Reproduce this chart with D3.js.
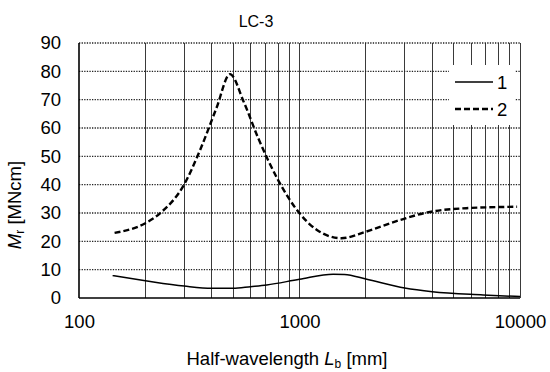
<!DOCTYPE html>
<html>
<head>
<meta charset="utf-8">
<script src="https://cdn.jsdelivr.net/npm/d3@7"></script>
<style>
  body { margin: 0; background: #fff; }
  text { font-family: "Liberation Sans", Arial, sans-serif; fill: #000; }
</style>
</head>
<body>
<div id="chart-area"></div>
<script>
// data
const lengths1 = [142, 200, 300, 400, 500, 600, 710, 1000, 1420, 1600, 2000, 3000, 4000, 6800, 10000]
const moments1 = [7.9, 6.1, 4.2, 3.4, 3.4, 4.0, 4.6, 6.6, 8.4, 8.3, 6.7, 3.5, 2.2, 1.1, 0.5]
const lengths2 = [145, 200, 233, 300, 354, 420, 484, 560, 650, 800, 1000, 1200, 1550, 2000, 2850, 3800, 5700, 9700]
const moments2 = [23, 26.4, 29.9, 40.1, 52.2, 67, 79, 69, 56.4, 41.6, 29.9, 24, 21.1, 23.4, 27.5, 30.2, 31.7, 32.2]
const seriesNames = ["1", "2"]
const yTicks = [0, 10, 20, 30, 40, 50, 60, 70, 80, 90]
const xLabels = [100, 1000, 10000]

const MARGIN = { LEFT: 79, RIGHT: 30, TOP: 43, BOTTOM: 74 }
const WIDTH = 550 - MARGIN.LEFT - MARGIN.RIGHT
const HEIGHT = 372 - MARGIN.TOP - MARGIN.BOTTOM

const svg = d3.select("#chart-area").append("svg")
  .attr("width", 550)
  .attr("height", 372)

const g = svg.append("g")
  .attr("transform", `translate(${MARGIN.LEFT}, ${MARGIN.TOP})`)

const x = d3.scaleLog().domain([100, 10000]).range([0, WIDTH])
const y = d3.scaleLinear().domain([0, 90]).range([HEIGHT, 0])

// vertical grid at every log step
const xGrid = d3.range(2, 11).map(d => d * 100).concat(d3.range(2, 11).map(d => d * 1000))
g.selectAll(".vgrid").data(xGrid).enter().append("line")
  .attr("class", "vgrid")
  .attr("x1", d => x(d)).attr("x2", d => x(d))
  .attr("y1", 0).attr("y2", HEIGHT)
  .attr("stroke", "#3a3a3a").attr("stroke-width", 1)
  .attr("shape-rendering", "crispEdges")

// horizontal dotted grid
g.selectAll(".hgrid").data(yTicks.slice(1)).enter().append("line")
  .attr("class", "hgrid")
  .attr("x1", 0).attr("x2", WIDTH)
  .attr("y1", d => y(d)).attr("y2", d => y(d))
  .attr("stroke", "#222").attr("stroke-width", 1.3)
  .attr("stroke-dasharray", "1.3,1.3")

// axes
const yAxisCall = d3.axisLeft(y).tickValues(yTicks).tickSize(0).tickPadding(18)
const yAxis = g.append("g").call(yAxisCall)
yAxis.select(".domain").remove()
yAxis.selectAll("text").attr("font-size", "18.5px").attr("font-family", "Liberation Sans, Arial, sans-serif")

const xAxisCall = d3.axisBottom(x).tickValues(xLabels).tickFormat(d3.format("d")).tickSize(0).tickPadding(17)
const xAxis = g.append("g").attr("transform", `translate(0, ${HEIGHT})`).call(xAxisCall)
xAxis.select(".domain").remove()
xAxis.selectAll("text").attr("font-size", "18.5px").attr("font-family", "Liberation Sans, Arial, sans-serif")

g.append("line").attr("x1", 0).attr("x2", 0).attr("y1", 0).attr("y2", HEIGHT)
  .attr("stroke", "#000").attr("stroke-width", 1.6)
g.append("line").attr("x1", 0).attr("x2", WIDTH).attr("y1", HEIGHT).attr("y2", HEIGHT)
  .attr("stroke", "#000").attr("stroke-width", 1.6)

// lines
const line = d3.line().curve(d3.curveMonotoneX)
  .x(d => x(d[0])).y(d => y(d[1]))

g.append("path")
  .datum(lengths1.map((l, i) => [l, moments1[i]]))
  .attr("d", line)
  .attr("fill", "none").attr("stroke", "#000").attr("stroke-width", 1.5)

g.append("path")
  .datum(lengths2.map((l, i) => [l, moments2[i]]))
  .attr("d", line)
  .attr("fill", "none").attr("stroke", "#000").attr("stroke-width", 2.4)
  .attr("stroke-dasharray", "6,3")

// legend
const legend = svg.append("g")
legend.append("rect")
  .attr("x", 449).attr("y", 65).attr("width", 66).attr("height", 60)
  .attr("fill", "#fff")
seriesNames.forEach((name, i) => {
  const ly = 82 + i * 27
  legend.append("line")
    .attr("x1", 455).attr("x2", 493).attr("y1", ly).attr("y2", ly)
    .attr("stroke", "#000").attr("stroke-width", i === 0 ? 1.5 : 2.4)
    .attr("stroke-dasharray", i === 0 ? null : "6,3")
  legend.append("text")
    .attr("x", 497).attr("y", ly + 7)
    .attr("font-size", "18.5px")
    .text(name)
})

// title
svg.append("text")
  .attr("x", 256).attr("y", 27)
  .attr("font-size", "16px")
  .attr("text-anchor", "middle")
  .text("LC-3")

// x label
const xl = svg.append("text")
  .attr("x", 287).attr("y", 365)
  .attr("font-size", "18.5px")
  .attr("text-anchor", "middle")
xl.append("tspan").text("Half-wavelength ")
xl.append("tspan").attr("font-style", "italic").text("L")
xl.append("tspan").attr("font-size", "12px").attr("dy", 3).text("b")
xl.append("tspan").attr("dy", -3).text(" [mm]")

// y label
const yl = svg.append("text")
  .attr("transform", "translate(21, 205) rotate(-90)")
  .attr("font-size", "18.5px")
  .attr("text-anchor", "middle")
yl.append("tspan").attr("font-style", "italic").text("M")
yl.append("tspan").attr("font-size", "12px").attr("dy", 3).text("r")
yl.append("tspan").attr("dy", -3).text(" [MNcm]")
</script>
</body>
</html>
